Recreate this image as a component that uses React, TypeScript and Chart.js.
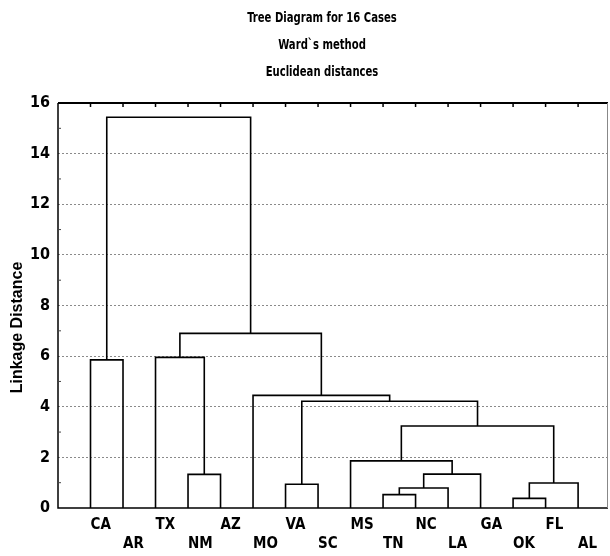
import React, { useEffect, useRef } from 'react';
import { Chart, registerables } from 'chart.js';
Chart.register(...registerables);

const titleLines = ['Tree Diagram for 16 Cases', 'Ward`s method', 'Euclidean distances'];
const yAxisTitle = 'Linkage Distance';
const leaves = ['CA', 'AR', 'TX', 'NM', 'AZ', 'MO', 'VA', 'SC', 'MS', 'TN', 'NC', 'LA', 'GA', 'OK', 'FL', 'AL'];
// merge k creates node 16 + k from its two children
const mergeLeft = [13, 9, 17, 6, 16, 3, 18, 8, 23, 19, 5, 0, 2, 28, 27];
const mergeRight = [14, 10, 11, 7, 15, 4, 12, 22, 20, 24, 25, 1, 21, 26, 29];
const mergeHeight = [0.38, 0.53, 0.79, 0.94, 0.99, 1.33, 1.34, 1.86, 3.24, 4.22, 4.45, 5.85, 5.95, 6.9, 15.44];
const yTicks = [0, 2, 4, 6, 8, 10, 12, 14, 16];

const NARROW = "'Liberation Sans Narrow', 'DejaVu Sans Condensed', 'Liberation Sans', Arial, sans-serif";
const SANS = "'Liberation Sans', Arial, sans-serif";

function buildDatasets() {
  const nx: number[] = leaves.map((_, i) => i);
  const ny: number[] = leaves.map(() => 0);
  const ds: any[] = [];
  mergeHeight.forEach((h, k) => {
    const l = mergeLeft[k];
    const r = mergeRight[k];
    ds.push({
      data: [
        { x: nx[l], y: ny[l] },
        { x: nx[l], y: h },
        { x: nx[r], y: h },
        { x: nx[r], y: ny[r] },
      ],
      showLine: true,
      borderColor: '#000',
      borderWidth: 1.6,
      pointRadius: 0,
      fill: false,
      tension: 0,
    });
    nx.push((nx[l] + nx[r]) / 2);
    ny.push(h);
  });
  return ds;
}

const decorPlugin = {
  id: 'decor',
  afterDraw(chart: any) {
    const { ctx, chartArea: a, scales } = chart;
    const xs = scales.x;
    const ys = scales.y;
    ctx.save();
    // frame
    ctx.strokeStyle = '#000';
    ctx.lineWidth = 1.5;
    ctx.beginPath();
    ctx.moveTo(a.right, a.bottom);
    ctx.lineTo(a.left, a.bottom);
    ctx.lineTo(a.left, a.top);
    ctx.stroke();
    ctx.lineWidth = 2;
    ctx.beginPath();
    ctx.moveTo(a.left, a.top);
    ctx.lineTo(a.right, a.top);
    ctx.stroke();
    ctx.strokeStyle = '#888';
    ctx.lineWidth = 1;
    ctx.beginPath();
    ctx.moveTo(a.right - 0.5, a.top);
    ctx.lineTo(a.right - 0.5, a.bottom);
    ctx.stroke();
    // top ticks at leaves
    ctx.strokeStyle = '#000';
    ctx.lineWidth = 1.5;
    ctx.beginPath();
    leaves.forEach((_, i) => {
      const px = xs.getPixelForValue(i);
      ctx.moveTo(px, a.top);
      ctx.lineTo(px, a.top + 4);
    });
    ctx.stroke();
    // minor ticks on the left axis
    ctx.lineWidth = 1;
    ctx.strokeStyle = '#444';
    ctx.beginPath();
    for (let v = 1; v < 16; v += 2) {
      const py = ys.getPixelForValue(v);
      ctx.moveTo(a.left, py);
      ctx.lineTo(a.left + 3, py);
    }
    ctx.stroke();
    // titles (condensed)
    ctx.fillStyle = '#000';
    ctx.textAlign = 'center';
    ctx.textBaseline = 'middle';
    ctx.font = `bold 14px ${NARROW}`;
    const tx = a.left + (a.right - a.left) * 0.48;
    titleLines.forEach((t, i) => {
      ctx.save();
      ctx.translate(tx, 18 + i * 27);
      ctx.scale(0.8, 1);
      ctx.fillText(t, 0, 0);
      ctx.restore();
    });
    // y axis title
    ctx.font = `bold 16px ${SANS}`;
    ctx.translate(18, (a.top + a.bottom) / 2 + 22);
    ctx.rotate(-Math.PI / 2);
    ctx.fillText(yAxisTitle, 0, 0);
    ctx.restore();
  },
};

export default function App() {
  const ref = useRef<HTMLCanvasElement | null>(null);
  useEffect(() => {
    if (!ref.current) return;
    const chart = new Chart(ref.current, {
      type: 'scatter',
      data: { datasets: buildDatasets() },
      options: {
        animation: false,
        responsive: false,
        layout: { padding: { top: 103, right: 2, left: 0, bottom: 0 } },
        plugins: { legend: { display: false }, tooltip: { enabled: false }, title: { display: false } },
        scales: {
          x: {
            type: 'linear',
            min: -1,
            max: 15.92,
            afterBuildTicks: (s: any) => {
              s.ticks = leaves.map((_, i) => ({ value: i }));
            },
            afterFit: (s: any) => {
              s.height = 48;
            },
            grid: { display: false, drawTicks: false },
            border: { display: false },
            ticks: {
              autoSkip: false,
              maxRotation: 0,
              minRotation: 0,
              align: 'start',
              padding: 8,
              color: '#000',
              font: { family: NARROW, size: 15, weight: 'bold', lineHeight: 1.25 },
              callback: (v: any) => {
                const i = Math.round(Number(v));
                const name = leaves[i] ?? '';
                return i % 2 === 0 ? [name, ''] : ['', name];
              },
            },
          },
          y: {
            type: 'linear',
            min: 0,
            max: 16,
            afterBuildTicks: (s: any) => {
              s.ticks = yTicks.map((v) => ({ value: v }));
            },
            afterFit: (s: any) => {
              s.width = 58;
            },
            grid: {
              drawTicks: false,
              lineWidth: 1,
              color: (c: any) => (c.tick && (c.tick.value === 0 || c.tick.value === 16) ? 'rgba(0,0,0,0)' : '#8a8a8a'),
            },
            border: { display: false, dash: [2, 2] },
            ticks: {
              padding: 8,
              color: '#000',
              font: { family: NARROW, size: 16, weight: 'bold' },
            },
          },
        },
      },
      plugins: [decorPlugin],
    } as any);
    return () => chart.destroy();
  }, []);
  return (
    <div style={{ position: 'absolute', left: 0, top: 0, width: 610, height: 556, background: '#fff' }}>
      <canvas ref={ref} width={610} height={556} style={{ display: 'block' }} />
    </div>
  );
}
